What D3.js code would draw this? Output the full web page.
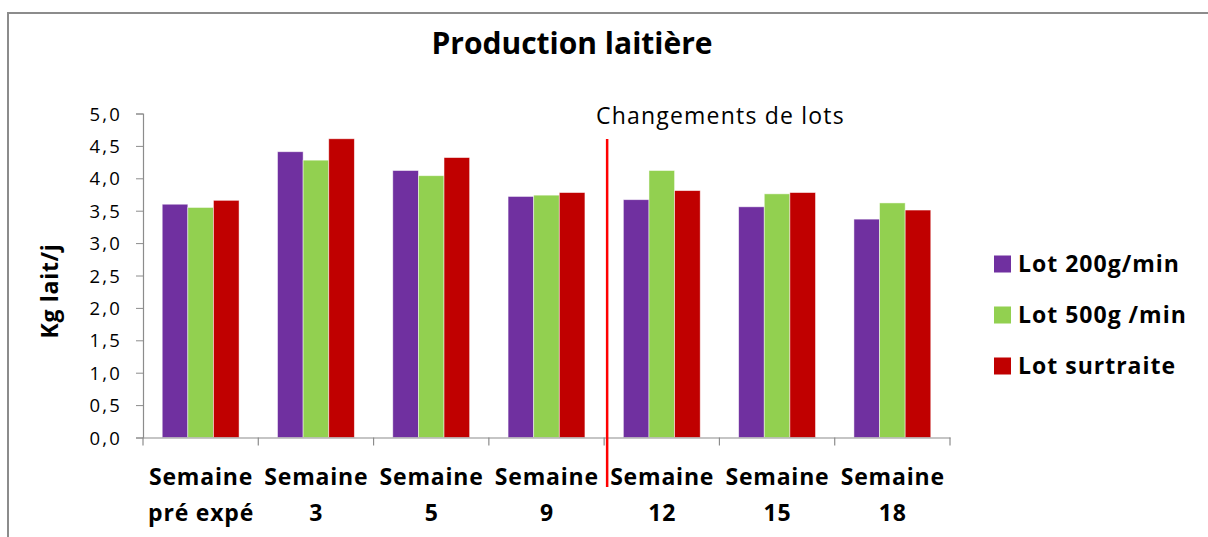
<!DOCTYPE html>
<html><head><meta charset="utf-8">
<script src="https://cdn.jsdelivr.net/npm/d3@7"></script>
<style>
html,body{margin:0;padding:0;background:#fff;}
svg{display:block;}
text{font-family:"Open Sans","Noto Sans",sans-serif;fill:#000;}
</style></head>
<body>
<svg id="chart" width="1208" height="537"></svg>
<script>
const categories = [["Semaine","pré expé"],["Semaine","3"],["Semaine","5"],["Semaine","9"],["Semaine","12"],["Semaine","15"],["Semaine","18"]];
const seriesNames = ["Lot 200g/min","Lot 500g /min","Lot surtraite"];
const lot200 = [3.60,4.41,4.12,3.72,3.67,3.56,3.37];
const lot500 = [3.55,4.28,4.04,3.74,4.12,3.76,3.62];
const lotSurtraite = [3.66,4.61,4.32,3.78,3.81,3.78,3.51];
const yTicks = [0,0.5,1,1.5,2,2.5,3,3.5,4,4.5,5];
const colors = ["#7030A0","#92D050","#C00000"];
const changeAfterIndex = 3; // line between "Semaine 9" and "Semaine 12"

(function(){
const svg = d3.select("#chart");
svg.append("rect").attr("x",8).attr("y",13).attr("width",1210).attr("height",540)
  .attr("fill","none").attr("stroke","#8c8c8c").attr("stroke-width",2);

const pl=143, pr=950, pt=113.5, pb=437.5;
const x = d3.scaleBand().domain(d3.range(categories.length)).range([pl,pr]).paddingInner(0).paddingOuter(0);
const y = d3.scaleLinear().domain([0,5]).range([pb,pt]);
const data = [lot200,lot500,lotSurtraite];
const bw = x.bandwidth()/4.5;
const x1 = d3.scaleBand().domain(d3.range(3)).range([bw*0.75, bw*3.75]);

const yAxis = d3.axisLeft(y).tickValues(yTicks).tickSize(7).tickFormat(d=>d3.format(".1f")(d).replace(".",","));
const yg = svg.append("g").attr("transform",`translate(${pl},0)`).call(yAxis);
yg.select(".domain").attr("stroke","#8c8c8c").attr("stroke-width",1.2);
yg.selectAll(".tick line").attr("stroke","#8c8c8c");
yg.selectAll(".tick text").attr("x",-21).attr("dy","0.36em")
  .style("font-family","'Open Sans',sans-serif").style("font-size","18.5px").style("letter-spacing","2.2px").attr("fill","#262626");

const groups = svg.append("g").selectAll("g").data(categories).join("g")
  .attr("transform",(d,i)=>`translate(${x(i)},0)`);
groups.selectAll("rect").data((d,i)=>data.map((s,k)=>({k,v:s[i]}))).join("rect")
  .attr("x",d=>x1(d.k)).attr("width",x1.bandwidth())
  .attr("y",d=>y(d.v)).attr("height",d=>y(0)-y(d.v))
  .attr("fill",d=>colors[d.k]).attr("stroke","rgba(255,255,255,0.6)").attr("stroke-width",0.8);

const xAxis = d3.axisBottom(x).tickSize(0).tickFormat("");
const xg = svg.append("g").attr("transform",`translate(0,${pb})`).call(xAxis);
xg.select(".domain").attr("stroke","#8c8c8c").attr("stroke-width",1.2);
xg.selectAll(".tick").remove();
const boundaries = d3.range(categories.length+1).map(i=> i<categories.length ? x(i) : x(i-1)+x.bandwidth());
xg.selectAll("line.b").data(boundaries).join("line").attr("class","b")
  .attr("x1",d=>d).attr("x2",d=>d).attr("y1",0).attr("y2",8).attr("stroke","#8c8c8c").attr("stroke-width",1.2);

const lab = svg.append("g").selectAll("text").data(categories).join("text")
  .attr("x",(d,i)=>x(i)+x.bandwidth()/2+0.4).attr("text-anchor","middle")
  .style("font-size","23px").style("font-weight","bold").style("letter-spacing","0.8px").attr("fill","#111");
lab.each(function(d){
  const t=d3.select(this);
  t.append("tspan").attr("x",t.attr("x")).attr("y",484.5).text(d[0]);
  t.append("tspan").attr("x",t.attr("x")).attr("y",520.5).text(d[1]);
});

const lx = x(changeAfterIndex)+x.bandwidth()+3;
svg.append("line").attr("x1",lx).attr("x2",lx).attr("y1",139).attr("y2",487)
  .attr("stroke","#FF0000").attr("stroke-width",2.5);
svg.append("text").attr("x",596).attr("y",124)
  .style("font-size","23px").style("letter-spacing","1.2px").attr("fill","#262626").text("Changements de lots");

svg.append("text").attr("x",572).attr("y",53.5).attr("text-anchor","middle")
  .style("font-size","30px").style("font-weight","bold").attr("fill","#111").text("Production laitière");

svg.append("text").attr("transform","translate(58,291) rotate(-90)").attr("text-anchor","middle")
  .style("font-size","23px").style("font-weight","bold").style("letter-spacing","0.7px").attr("fill","#111").text("Kg lait/j");

const lg = svg.append("g").selectAll("g").data(seriesNames).join("g")
  .attr("transform",(d,i)=>`translate(994,${264+i*51})`);
lg.append("rect").attr("x",0).attr("y",-8.5).attr("width",17).attr("height",17).attr("fill",(d,i)=>colors[i]);
lg.append("text").attr("x",24).attr("y",0).attr("dy","0.36em").style("font-size","23px").style("font-weight","bold")
  .style("letter-spacing","1px").attr("fill","#111").text(d=>d);
})();
</script>
</body></html>
